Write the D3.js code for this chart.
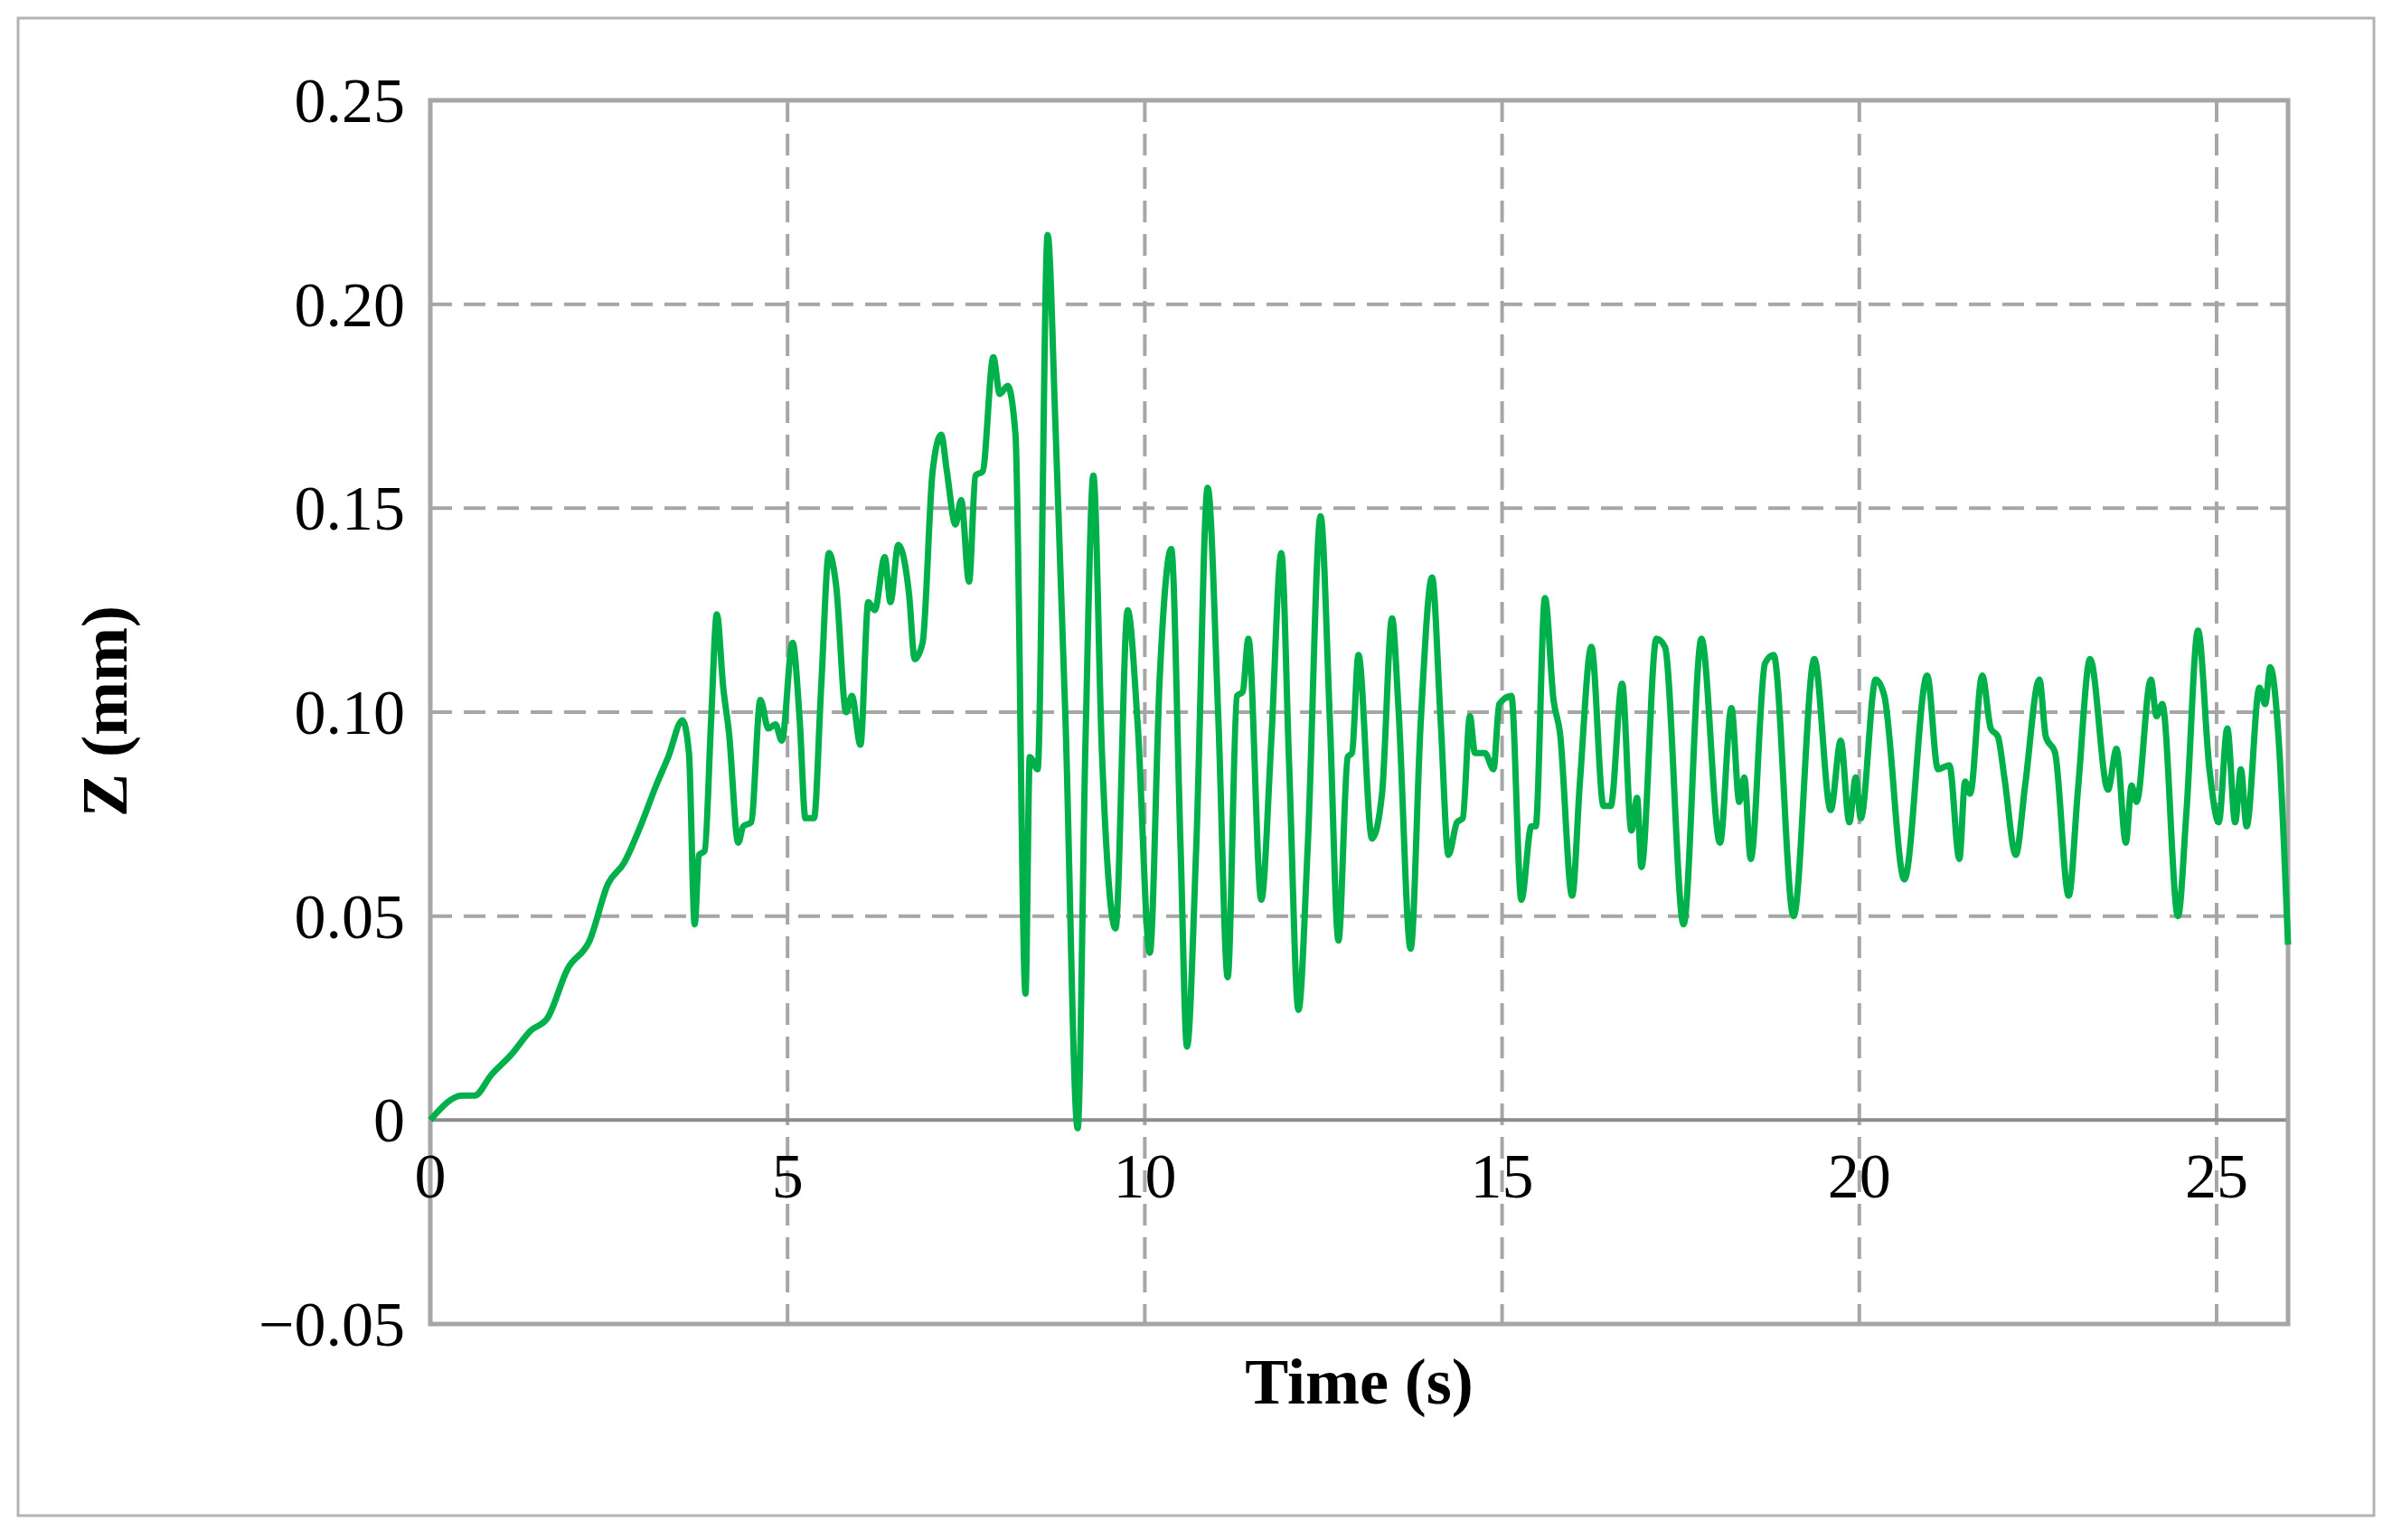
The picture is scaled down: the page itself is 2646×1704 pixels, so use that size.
<!DOCTYPE html>
<html>
<head>
<meta charset="utf-8">
<script src="https://cdn.jsdelivr.net/npm/d3@7"></script>
<style>
  body { margin: 0; background: #fff; }
  text { font-family: "Liberation Serif", "DejaVu Serif", serif; }
</style>
</head>
<body>
<svg width="2646" height="1704"></svg>
<script>
// data (time in s, Z in mm)
var time = [0,0.45,0.62,0.85,1.13,1.41,1.64,1.92,2.23,2.49,2.71,2.94,3.16,3.33,3.53,3.62,3.70,3.76,3.84,3.93,
  4.01,4.10,4.18,4.31,4.38,4.49,4.62,4.73,4.83,4.92,5.07,5.17,5.25,5.37,5.47,5.58,5.68,5.82,5.90,6.02,
  6.13,6.22,6.36,6.44,6.55,6.70,6.78,6.89,7.03,7.15,7.23,7.35,7.43,7.54,7.63,7.73,7.88,7.97,8.08,8.19,
  8.33,8.39,8.50,8.64,8.75,8.89,9.06,9.17,9.28,9.40,9.59,9.76,9.90,10.07,10.21,10.37,10.50,10.59,10.72,10.88,
  11.03,11.16,11.29,11.37,11.45,11.63,11.77,11.91,12.02,12.15,12.28,12.46,12.59,12.71,12.84,12.90,12.99,13.18,13.32,13.46,
  13.55,13.72,13.86,14.02,14.14,14.25,14.37,14.45,14.55,14.62,14.76,14.88,14.96,15.13,15.27,15.41,15.47,15.60,15.72,15.81,
  15.98,16.09,16.25,16.42,16.52,16.68,16.81,16.89,16.95,17.16,17.28,17.54,17.79,18.05,18.21,18.32,18.39,18.48,18.68,18.80,
  19.08,19.37,19.60,19.74,19.86,19.95,20.02,20.23,20.35,20.63,20.95,21.10,21.26,21.40,21.48,21.55,21.72,21.84,21.94,22.03,
  22.19,22.32,22.52,22.61,22.74,22.93,23.06,23.23,23.48,23.60,23.73,23.81,23.88,24.08,24.16,24.24,24.46,24.58,24.74,24.90,
  25.03,25.15,25.26,25.34,25.42,25.60,25.68,25.75,25.87,26.00];
var z = [0,0.006,0.006,0.011,0.016,0.022,0.025,0.037,0.044,0.058,0.063,0.072,0.082,0.089,0.098,0.090,0.048,0.065,0.066,0.098,
  0.124,0.106,0.095,0.068,0.072,0.073,0.103,0.096,0.097,0.093,0.117,0.098,0.074,0.074,0.106,0.139,0.131,0.100,0.104,0.092,
  0.127,0.125,0.138,0.127,0.141,0.129,0.113,0.117,0.159,0.168,0.159,0.146,0.152,0.132,0.158,0.159,0.187,0.178,0.180,0.168,
  0.031,0.089,0.086,0.217,0.170,0.098,-0.002,0.093,0.158,0.090,0.047,0.125,0.097,0.041,0.109,0.140,0.067,0.018,0.067,0.155,
  0.098,0.035,0.104,0.105,0.118,0.054,0.093,0.139,0.087,0.027,0.067,0.148,0.098,0.044,0.089,0.090,0.114,0.069,0.080,0.123,
  0.101,0.042,0.097,0.133,0.098,0.065,0.073,0.074,0.099,0.090,0.090,0.086,0.102,0.104,0.054,0.072,0.072,0.128,0.103,0.095,
  0.055,0.083,0.116,0.077,0.077,0.107,0.071,0.079,0.062,0.118,0.116,0.048,0.118,0.068,0.101,0.078,0.084,0.064,0.112,0.114,
  0.050,0.113,0.076,0.093,0.073,0.084,0.074,0.108,0.104,0.059,0.109,0.086,0.087,0.064,0.083,0.080,0.109,0.096,0.094,0.084,
  0.065,0.082,0.108,0.094,0.090,0.055,0.081,0.113,0.081,0.091,0.068,0.082,0.078,0.108,0.099,0.102,0.050,0.076,0.120,0.086,
  0.073,0.096,0.073,0.086,0.072,0.106,0.102,0.111,0.093,0.043];
var xTicks = [0, 5, 10, 15, 20, 25];
var yTicks = [-0.05, 0, 0.05, 0.10, 0.15, 0.20, 0.25];
var yLabels = ["\u22120.05", "0", "0.05", "0.10", "0.15", "0.20", "0.25"];

var svg = d3.select("svg");
var mLeft = 476, mRight = 2531, mTop = 111, mBottom = 1465;
var x = d3.scaleLinear().domain([0, 26]).range([mLeft, mRight]);
var y = d3.scaleLinear().domain([-0.05, 0.25]).range([mBottom, mTop]);
var grey = "#a6a6a6";

// outer frame
svg.append("rect").attr("x", 20).attr("y", 20).attr("width", 2606).attr("height", 1657)
  .attr("fill", "none").attr("stroke", "#b4b4b4").attr("stroke-width", 3);

// grid
svg.append("g").selectAll("line").data(xTicks.filter(d => d > 0)).enter().append("line")
  .attr("x1", d => x(d)).attr("x2", d => x(d)).attr("y1", mTop).attr("y2", mBottom)
  .attr("stroke", grey).attr("stroke-width", 4).attr("stroke-dasharray", "24,13");
svg.append("g").selectAll("line").data(yTicks.filter(d => d > 0 && d < 0.25)).enter().append("line")
  .attr("x1", mLeft).attr("x2", mRight).attr("y1", d => y(d)).attr("y2", d => y(d))
  .attr("stroke", grey).attr("stroke-width", 4).attr("stroke-dasharray", "24,13");
svg.append("line").attr("x1", mLeft).attr("x2", mRight).attr("y1", y(0)).attr("y2", y(0))
  .attr("stroke", "#8c8c8c").attr("stroke-width", 4);

// plot border
svg.append("rect").attr("x", mLeft).attr("y", mTop).attr("width", mRight - mLeft).attr("height", mBottom - mTop)
  .attr("fill", "none").attr("stroke", grey).attr("stroke-width", 5);

// series
var pts = time.map((t, i) => [t, z[i]]);
var line = d3.line().x(d => x(d[0])).y(d => y(d[1])).curve(d3.curveMonotoneX);
svg.append("path").datum(pts).attr("d", line).attr("fill", "none")
  .attr("stroke", "#00b04a").attr("stroke-width", 7).attr("stroke-linejoin", "round");

// tick labels
svg.append("g").selectAll("text").data(yTicks).enter().append("text")
  .attr("x", mLeft - 28).attr("y", d => y(d) + 24).attr("text-anchor", "end")
  .attr("font-size", 70).text((d, i) => yLabels[i]);
svg.append("g").selectAll("text").data(xTicks).enter().append("text")
  .attr("x", d => x(d)).attr("y", y(0) + 86).attr("text-anchor", "middle")
  .attr("font-size", 70).text(d => d);

// axis titles
svg.append("text").attr("x", (mLeft + mRight) / 2).attr("y", 1553).attr("text-anchor", "middle")
  .attr("font-size", 72).attr("font-weight", "bold").text("Time (s)");
svg.append("text").attr("transform", "translate(140,787) rotate(-90)").attr("text-anchor", "middle")
  .attr("font-size", 72).attr("font-weight", "bold").text("Z (mm)");
</script>
</body>
</html>
